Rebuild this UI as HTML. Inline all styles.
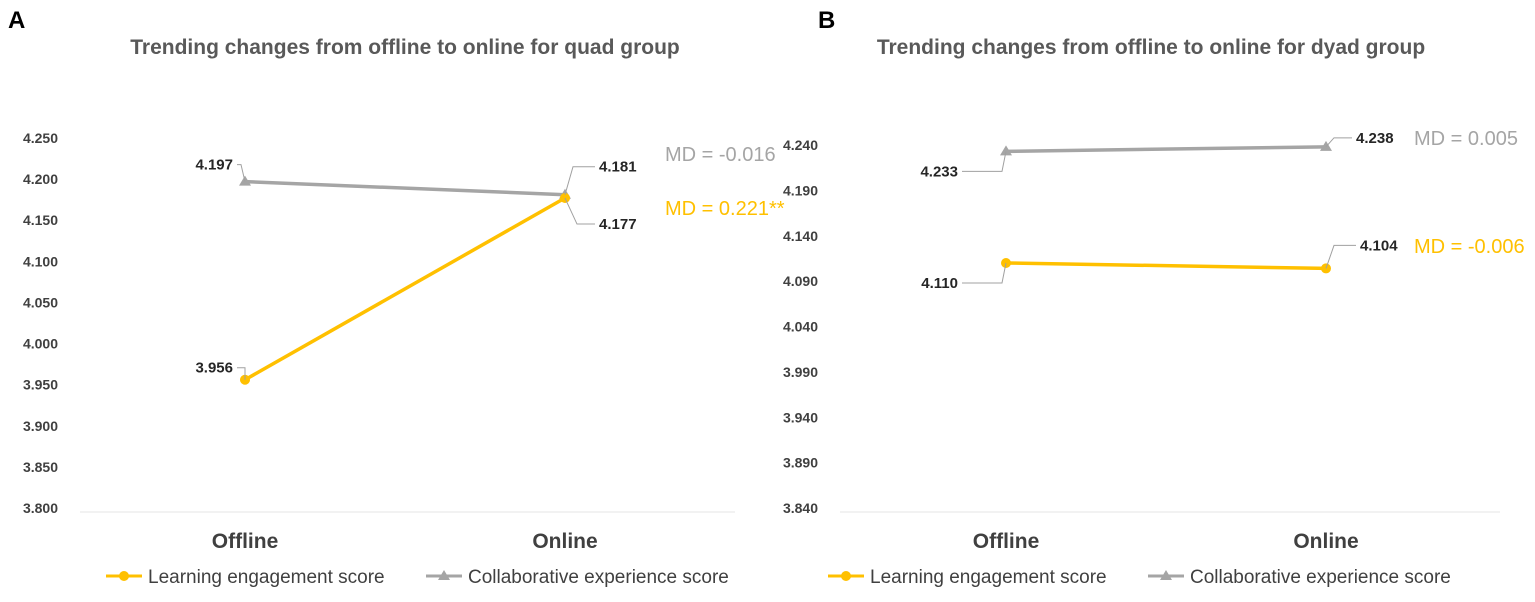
<!DOCTYPE html>
<html><head><meta charset="utf-8"><style>
body{margin:0;background:#fff;width:1535px;height:597px;overflow:hidden;font-family:"Liberation Sans",sans-serif}
svg text{font-family:"Liberation Sans Narrow","Liberation Sans",sans-serif}
</style></head><body>
<svg id="c" width="1535" height="597"></svg>
<script>
const categories=["Offline","Online"];
const quadEngagement=[3.956,4.177];
const quadCollab=[4.197,4.181];
const quadTicks=[4.25,4.2,4.15,4.1,4.05,4.0,3.95,3.9,3.85,3.8];
const dyadEngagement=[4.110,4.104];
const dyadCollab=[4.233,4.238];
const dyadTicks=[4.24,4.19,4.14,4.09,4.04,3.99,3.94,3.89,3.84];
const quadMD=["MD = -0.016","MD = 0.221**"];
const dyadMD=["MD = 0.005","MD = -0.006"];

const svg=document.getElementById('c');
const NS='http://www.w3.org/2000/svg';
function mk(tag,attrs,parent,txt){const e=document.createElementNS(NS,tag);for(const k in attrs)e.setAttribute(k,attrs[k]);if(txt!==undefined)e.textContent=txt;(parent||svg).appendChild(e);return e;}

function panel(o){
  const g=mk('g',{});
  
  
  const y=v=>o.yTop+(o.ticks[0]-v)/(o.ticks[0]-o.ticks[o.ticks.length-1])*(o.yBot-o.yTop);
  const x=i=>o.xs[i];
  let t=mk('text',{x:o.letterX,y:28,'font-size':24,'font-weight':'bold',fill:'#000'},g,o.letter);
  
  t=mk('text',{x:o.titleX,y:54,'font-size':21,'font-weight':'bold',fill:'#595959','text-anchor':'middle'},g,o.title);
  
  o.ticks.forEach(v=>{const e=mk('text',{x:o.tickX,y:y(v)+5,'font-size':14,'font-weight':'bold',fill:'#404040','text-anchor':'end'},g,v.toFixed(3));
    });
  const ax=mk('line',{x1:o.axX1,x2:o.axX2,y1:o.yBot+4,y2:o.yBot+4,stroke:'#e6e6e6','stroke-width':1},g);
  
  categories.forEach((c,i)=>{const e=mk('text',{x:x(i),y:548,'font-size':21,'font-weight':'bold',fill:'#404040','text-anchor':'middle'},g,c);
    });
  const series=[{d:o.collab,c:'#a5a5a5',n:'collab',m:'tri'},{d:o.eng,c:'#ffc000',n:'engagement',m:'dot'}];
  series.forEach(s=>{
    const l=mk('line',{x1:x(0),y1:y(s.d[0]),x2:x(1),y2:y(s.d[1]),stroke:s.c,'stroke-width':3.5},g);
    
    s.d.forEach((v,i)=>{let m;
      if(s.m==='dot')m=mk('circle',{cx:x(i),cy:y(v),r:5,fill:s.c},g);
      else m=mk('polygon',{points:`${x(i)-6},${y(v)+4} ${x(i)+6},${y(v)+4} ${x(i)},${y(v)-6}`,fill:s.c},g);
      });
  });
  o.labels.forEach(L=>{
    const s=L.s==='c'?o.collab:o.eng;const v=s[L.i];const px=x(L.i),py=y(v);
    const lx=px+L.dx,ly=py+L.dy;
    const p=mk('polyline',{points:`${px},${py} ${px+L.kx},${ly} ${lx+(L.dx<0?4:-4)},${ly}`,fill:'none',stroke:'#a0a0a0','stroke-width':1},g);
    
    const e=mk('text',{x:lx,y:ly+5,'font-size':15,'font-weight':'bold',fill:'#262626','text-anchor':L.dx<0?'end':'start'},g,v.toFixed(3));
    
  });
  o.md.forEach((m,k)=>{const e=mk('text',{x:o.mdX,y:o.mdY[k],'font-size':20,fill:k===0?'#a5a5a5':'#ffc000'},g,m);
    });
  const lg=mk('g',{},g);
  const L1=o.legX;
  mk('line',{x1:L1,x2:L1+36,y1:576,y2:576,stroke:'#ffc000','stroke-width':3},lg);
  mk('circle',{cx:L1+18,cy:576,r:5,fill:'#ffc000'},lg);
  let e=mk('text',{x:L1+42,y:583,'font-size':19,fill:'#404040'},lg,'Learning engagement score');
  
  const L2=L1+320;
  mk('line',{x1:L2,x2:L2+36,y1:576,y2:576,stroke:'#a5a5a5','stroke-width':3},lg);
  mk('polygon',{points:`${L2+12},580 ${L2+24},580 ${L2+18},570`,fill:'#a5a5a5'},lg);
  e=mk('text',{x:L2+42,y:583,'font-size':19,fill:'#404040'},lg,'Collaborative experience score');
  
}
panel({name:'panel-a-quad',letter:'A',letterX:8,title:'Trending changes from offline to online for quad group',titleX:405,
  ticks:quadTicks,yTop:138,yBot:508,tickX:58,xs:[245,565],axX1:80,axX2:735,eng:quadEngagement,collab:quadCollab,
  labels:[{s:'c',i:0,dx:-12,dy:-17,kx:-4},{s:'c',i:1,dx:34,dy:-28,kx:8},{s:'e',i:1,dx:34,dy:26,kx:12},{s:'e',i:0,dx:-12,dy:-12,kx:0}],
  md:quadMD,mdX:665,mdY:[161,215],legX:106});
panel({name:'panel-b-dyad',letter:'B',letterX:818,title:'Trending changes from offline to online for dyad group',titleX:1151,
  ticks:dyadTicks,yTop:145,yBot:508,tickX:818,xs:[1006,1326],axX1:840,axX2:1500,eng:dyadEngagement,collab:dyadCollab,
  labels:[{s:'c',i:0,dx:-48,dy:20,kx:-4},{s:'c',i:1,dx:30,dy:-9,kx:8},{s:'e',i:1,dx:34,dy:-23,kx:8},{s:'e',i:0,dx:-48,dy:20,kx:-4}],
  md:dyadMD,mdX:1414,mdY:[145,253],legX:828});
</script>
</body></html>
